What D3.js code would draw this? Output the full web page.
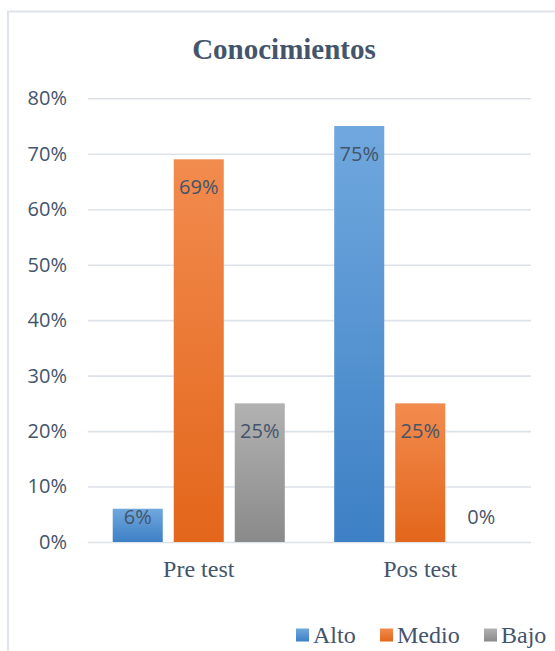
<!DOCTYPE html>
<html><head><meta charset="utf-8">
<script src="https://cdn.jsdelivr.net/npm/d3@7"></script>
<style>body{margin:0;background:#fff;}svg{display:block;}</style>
</head><body>
<script>
const title = "Conocimientos";
const categories = ["Pre test", "Pos test"];
const seriesNames = ["Alto", "Medio", "Bajo"];
const alto = [0.06, 0.75];
const medio = [0.69, 0.25];
const bajo = [0.25, 0.00];
const tickValues = [0, 0.1, 0.2, 0.3, 0.4, 0.5, 0.6, 0.7, 0.8];

const seriesValues = [alto, medio, bajo];
const gradients = [["#70a8de", "#3d80c5"], ["#f28b4e", "#e3661b"], ["#b2b2b2", "#8a8a8a"]];

const W = 555, H = 651;
const svg = d3.select("body").append("svg").attr("width", W).attr("height", H);
const defs = svg.append("defs");
gradients.forEach((g, i) => {
  const lgr = defs.append("linearGradient").attr("id", "g" + i).attr("x1", 0).attr("y1", 0).attr("x2", 0).attr("y2", 1);
  lgr.append("stop").attr("offset", "0%").attr("stop-color", g[0]);
  lgr.append("stop").attr("offset", "100%").attr("stop-color", g[1]);
});

// chart border
svg.append("rect").attr("x", 8).attr("y", 11.5).attr("width", 560).attr("height", 660)
  .attr("fill", "none").attr("stroke", "#dfe3ea").attr("stroke-width", 2);

const textColor = "#44546a";
svg.append("text").attr("x", 284).attr("y", 59).attr("text-anchor", "middle")
  .attr("font-family", "Liberation Serif, Times New Roman, serif").attr("font-weight", "bold")
  .attr("font-size", 29).attr("fill", textColor).text(title);

const pLeft = 88, pRight = 531, pTop = 98.3, pBottom = 542;
const y = d3.scaleLinear().domain([0, 0.8]).range([pBottom, pTop]);
const x0 = d3.scaleBand().domain(categories).range([pLeft, pRight]).padding(0);
const x1 = d3.scaleBand().domain(seriesNames).range([0, x0.bandwidth()]).paddingInner(0.18).paddingOuter(0.405);

// gridlines
const yAxis = d3.axisLeft(y).tickValues(tickValues).tickSize(-(pRight - pLeft)).tickFormat(d3.format(".0%")).tickPadding(21);
const ga = svg.append("g").attr("transform", `translate(${pLeft},0)`).call(yAxis);
ga.select(".domain").remove();
ga.selectAll(".tick line").attr("stroke", "#dde2ea").attr("stroke-width", 1.6);
ga.selectAll(".tick text").attr("font-family", "Open Sans, sans-serif").attr("font-size", 20).attr("fill", textColor);

// bars
const groups = svg.append("g").selectAll("g").data(categories).join("g")
  .attr("transform", d => `translate(${x0(d)},0)`);
seriesNames.forEach((s, si) => {
  groups.append("rect")
    .attr("x", x1(s)).attr("width", x1.bandwidth())
    .attr("y", (d, ci) => y(seriesValues[si][ci]))
    .attr("height", (d, ci) => pBottom - y(seriesValues[si][ci]))
    .attr("fill", `url(#g${si})`);
});
seriesNames.forEach((s, si) => {
  groups.append("text")
    .attr("x", x1(s) + x1.bandwidth() / 2)
    .attr("y", (d, ci) => Math.min(y(seriesValues[si][ci]) + 35, pBottom - 18))
    .attr("text-anchor", "middle")
    .attr("font-family", "Open Sans, sans-serif").attr("font-size", 20).attr("fill", textColor)
    .text((d, ci) => d3.format(".0%")(seriesValues[si][ci]));
});

// x axis labels
const xAxis = d3.axisBottom(x0).tickSize(0).tickPadding(0);
const gx = svg.append("g").attr("transform", `translate(0,${pBottom})`).call(xAxis);
gx.select(".domain").remove();
gx.selectAll(".tick text").attr("dy", 0).attr("y", 35)
  .attr("font-family", "Liberation Serif, Times New Roman, serif").attr("font-size", 24).attr("fill", textColor);

// legend
const legendX = [296, 380, 484];
const lg = svg.append("g");
seriesNames.forEach((s, i) => {
  lg.append("rect").attr("x", legendX[i]).attr("y", 628.5).attr("width", 13).attr("height", 13).attr("fill", `url(#g${i})`);
  lg.append("text").attr("x", legendX[i] + 17).attr("y", 643)
    .attr("font-family", "Liberation Serif, Times New Roman, serif").attr("font-size", 24).attr("fill", textColor).text(s);
});
</script>
</body></html>
